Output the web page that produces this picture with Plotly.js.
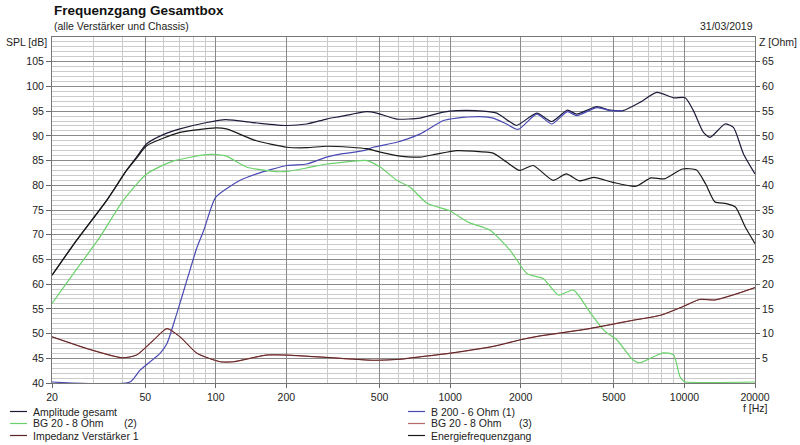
<!DOCTYPE html>
<html>
<head>
<meta charset="utf-8">
<script src="https://cdn.plot.ly/plotly-3.0.1.min.js"></script>
<style>
  html, body { margin: 0; padding: 0; background: #fff; }
  #chart { width: 800px; height: 445px; }
</style>
</head>
<body>
<div id="chart"></div>
<script>
// Amplitude gesamt
const ampFreq = [20, 25.5, 34.3, 41.6, 45.9, 50.7, 60, 70.3, 91.5, 110, 150, 201, 244, 297, 339, 441, 486, 592, 745, 936, 1067, 1387, 1582, 1803, 1923, 2344, 2716, 3166, 3467, 4227, 4819, 5460, 6470, 7620, 8980, 10070, 10920, 12050, 12860, 14900, 16180, 17840, 20000];
const ampSpl = [61.8, 68.9, 77.0, 83.0, 85.7, 88.4, 90.3, 91.4, 92.7, 93.3, 92.6, 92.1, 92.4, 93.4, 93.9, 94.9, 94.6, 93.4, 93.6, 94.8, 95.1, 95.0, 94.6, 92.8, 92.1, 94.6, 92.9, 95.2, 94.4, 95.9, 95.2, 95.1, 96.8, 98.8, 97.7, 97.7, 95.1, 90.7, 89.7, 92.4, 91.7, 86.4, 82.3];

// B 200 - 6 Ohm (1)
const b200Freq = [20, 43, 47.5, 57.8, 61.9, 68.2, 75.3, 83.2, 88.9, 100, 127, 149, 201, 244, 297, 339, 427, 470, 592, 745, 936, 1067, 1339, 1526, 1740, 1950, 2344, 2716, 3166, 3467, 4227, 4819, 5460];
const b200Spl = [40.2, 40.2, 42.6, 46.0, 48.0, 54.1, 60.8, 67.5, 70.9, 77.6, 81.0, 82.3, 84.0, 84.3, 85.7, 86.3, 87.0, 87.7, 88.7, 90.4, 93.1, 93.6, 93.9, 93.6, 92.4, 91.3, 94.4, 92.4, 94.9, 94.1, 95.7, 95.1, 95.1];

// BG 20 - 8 Ohm (2)
const bg20Freq = [20, 25, 32, 40.2, 50.7, 65.7, 91.5, 100, 111, 135, 176, 201, 244, 297, 339, 441, 503, 592, 675, 800, 990, 1200, 1480, 1800, 2130, 2500, 2900, 3360, 3980, 4520, 5150, 6050, 6470, 8100, 8980, 9560, 9900, 10100, 20000];
const bg20Spl = [56.1, 62.5, 69.5, 76.9, 82.3, 84.9, 86.2, 86.2, 85.9, 83.7, 82.8, 82.8, 83.5, 84.3, 84.6, 85.0, 83.7, 81.0, 79.6, 76.3, 74.9, 72.5, 70.9, 66.9, 62.1, 61.1, 57.8, 58.8, 54.1, 50.7, 48.7, 44.6, 44.1, 46.1, 45.7, 41.3, 40.4, 40.2, 40.2];

// Impedanz (rechte Achse)
const impFreq = [20, 29.4, 40, 45.9, 54.3, 61.9, 70.3, 83.2, 104.5, 119, 164, 201, 339, 470, 611, 715, 990, 1526, 2020, 2400, 3700, 4950, 6050, 7900, 9900, 11600, 13500, 16100, 20000];
const impOhm = [9.35, 6.7, 5.1, 5.65, 8.7, 11.0, 9.35, 6.0, 4.3, 4.3, 5.65, 5.65, 5.0, 4.6, 4.8, 5.2, 6.0, 7.4, 8.8, 9.5, 10.8, 11.9, 12.7, 13.7, 15.5, 16.9, 16.8, 17.8, 19.3];

// Energiefrequenzgang
const energyFreq = [20, 25.5, 34.3, 41.6, 45.9, 50.7, 70.3, 100, 111, 149, 201, 244, 297, 374, 441, 503, 592, 745, 874, 1067, 1256, 1526, 1740, 1982, 2260, 2750, 3130, 3570, 4100, 4950, 6200, 7200, 8200, 9800, 11250, 12300, 13500, 15100, 16500, 18200, 20000];
const energySpl = [61.8, 68.9, 77.0, 83.0, 85.5, 88.0, 90.7, 91.6, 91.4, 89.0, 87.7, 87.6, 87.9, 87.7, 87.4, 86.7, 86.0, 85.7, 86.3, 87.0, 86.9, 86.5, 84.7, 83.0, 84.0, 81.0, 82.3, 80.9, 81.6, 80.6, 79.8, 81.5, 81.3, 83.3, 83.1, 80.3, 76.6, 76.3, 75.6, 71.5, 68.2];

// Achsen
const freqTicks = [20, 50, 100, 200, 500, 1000, 2000, 5000, 10000, 20000];
const freqMinor = [30, 40, 60, 70, 80, 90, 300, 400, 600, 700, 800, 900, 3000, 4000, 6000, 7000, 8000, 9000];
const splTicks = [40, 45, 50, 55, 60, 65, 70, 75, 80, 85, 90, 95, 100, 105];
const ohmTicks = [5, 10, 15, 20, 25, 30, 35, 40, 45, 50, 55, 60, 65];

// Legende (zwei Spalten, drei Zeilen)
const legendNames = ["Amplitude gesamt", "BG 20 - 8 Ohm", "Impedanz Verstärker 1", "B 200 - 6 Ohm (1)", "BG 20 - 8 Ohm", "Energiefrequenzgang"];
const legendSuffix = ["", "(2)", "", "", "(3)", ""];

const FONT = "Liberation Sans, Arial, sans-serif";
const TXT = "#222";

const colors = {
  amp: "#1c1c3a",
  b200: "#4a4ab4",
  bg20: "#6ad26a",
  bg20z: "#b86a6a",
  imp: "#5a2424",
  energy: "#1a1a1a",
};
const legendColors = [colors.amp, colors.bg20, colors.imp, colors.b200, colors.bg20z, colors.energy];

const line = (color) => ({ color: color, width: 1.2, shape: "spline", smoothing: 0.6 });

const traces = [
  { name: "Amplitude gesamt", x: ampFreq, y: ampSpl, type: "scatter", mode: "lines", line: line(colors.amp) },
  { name: "B 200 - 6 Ohm (1)", x: b200Freq, y: b200Spl, type: "scatter", mode: "lines", line: line(colors.b200) },
  { name: "BG 20 - 8 Ohm (2)", x: bg20Freq, y: bg20Spl, type: "scatter", mode: "lines", line: line(colors.bg20) },
  { name: "BG 20 - 8 Ohm (3)", x: impFreq, y: impOhm, yaxis: "y2", type: "scatter", mode: "lines", line: line(colors.bg20z) },
  { name: "Impedanz Verstärker 1", x: impFreq, y: impOhm, yaxis: "y2", type: "scatter", mode: "lines", line: { color: colors.imp, width: 1, shape: "spline", smoothing: 0.6 } },
  { name: "Energiefrequenzgang", x: energyFreq, y: energySpl, type: "scatter", mode: "lines", line: line(colors.energy) },
];

// plot area in pixels: x 52..755, y 37..383
const PL = 52, PR = 755, PT = 37, PB = 383;
const px = (v) => (v - PL) / (PR - PL);
const py = (v) => (PB - v) / (PB - PT);

const legendShapes = [];
const legendAnn = [];
const rowY = [411.5, 423.5, 435.5];
legendNames.forEach((name, i) => {
  const col = Math.floor(i / 3), row = i % 3;
  const x0 = col === 0 ? 10 : 408, x1 = col === 0 ? 27 : 425;
  const tx = col === 0 ? 31 : 429;
  const sx = col === 0 ? 122 : 517;
  legendShapes.push({ type: "line", xref: "paper", yref: "paper", x0: px(x0), x1: px(x1), y0: py(rowY[row]), y1: py(rowY[row]), line: { color: legendColors[i], width: 1.2 } });
  legendAnn.push({ text: name, xref: "paper", yref: "paper", x: px(tx), y: py(rowY[row]), xanchor: "left", yanchor: "middle", showarrow: false, font: { family: FONT, size: 10.5, color: TXT } });
  if (legendSuffix[i]) {
    legendAnn.push({ text: legendSuffix[i], xref: "paper", yref: "paper", x: px(sx), y: py(rowY[row]), xanchor: "left", yanchor: "middle", showarrow: false, font: { family: FONT, size: 10.5, color: TXT } });
  }
});

const tickFont = { family: FONT, size: 10.5, color: TXT };

const layout = {
  width: 800,
  height: 445,
  margin: { l: PL, r: 800 - PR, t: PT, b: 445 - PB },
  paper_bgcolor: "#fff",
  plot_bgcolor: "#fff",
  font: { family: FONT, size: 10.5, color: TXT },
  showlegend: false,
  xaxis: {
    type: "log",
    range: [Math.log10(20), Math.log10(20000)],
    tickvals: freqTicks,
    ticktext: freqTicks.map(String),
    showgrid: true, gridcolor: "#8a8a8a", gridwidth: 1,
    minor: { tickvals: freqMinor, showgrid: true, gridcolor: "#cbcbcb", gridwidth: 1, ticks: "" },
    ticks: "outside", ticklen: 4, tickcolor: "#666",
    showline: true, linecolor: "#777", mirror: true,
    zeroline: false,
    tickfont: tickFont,
  },
  yaxis: {
    range: [40, 110],
    tickvals: splTicks,
    showgrid: true, gridcolor: "#8a8a8a", gridwidth: 1,
    minor: { dtick: 1, showgrid: true, gridcolor: "#cbcbcb", gridwidth: 1, ticks: "" },
    ticks: "outside", ticklen: 5, tickcolor: "#666",
    showline: true, linecolor: "#777", mirror: true,
    zeroline: false,
    tickfont: tickFont,
  },
  yaxis2: {
    overlaying: "y", side: "right",
    range: [0, 70],
    tickvals: ohmTicks,
    showgrid: false, zeroline: false,
    ticks: "outside", ticklen: 4, tickcolor: "#666",
    showline: false,
    tickfont: tickFont,
  },
  shapes: legendShapes,
  annotations: [
    { text: "<b>Frequenzgang Gesamtbox</b>", xref: "paper", yref: "paper", x: 0, y: py(11), xanchor: "left", yanchor: "middle", showarrow: false, font: { family: FONT, size: 13.5, color: "#111" } },
    { text: "(alle Verstärker und Chassis)", xref: "paper", yref: "paper", x: 0, y: py(25.5), xanchor: "left", yanchor: "middle", showarrow: false, font: { family: FONT, size: 10.5, color: TXT } },
    { text: "31/03/2019", xref: "paper", yref: "paper", x: 1, y: py(25.5), xanchor: "right", yanchor: "middle", showarrow: false, font: { family: FONT, size: 10.5, color: TXT } },
    { text: "SPL [dB]", xref: "paper", yref: "paper", x: px(49), y: py(42), xanchor: "right", yanchor: "middle", showarrow: false, font: { family: FONT, size: 10.5, color: TXT } },
    { text: "Z [Ohm]", xref: "paper", yref: "paper", x: px(757), y: py(42), xanchor: "left", yanchor: "middle", showarrow: false, font: { family: FONT, size: 10.5, color: TXT } },
    { text: "f [Hz]", xref: "paper", yref: "paper", x: px(755), y: py(408), xanchor: "center", yanchor: "middle", showarrow: false, font: { family: FONT, size: 10.5, color: TXT } },
  ].concat(legendAnn),
};

Plotly.newPlot("chart", traces, layout, { displayModeBar: false, staticPlot: true });
</script>
</body>
</html>
